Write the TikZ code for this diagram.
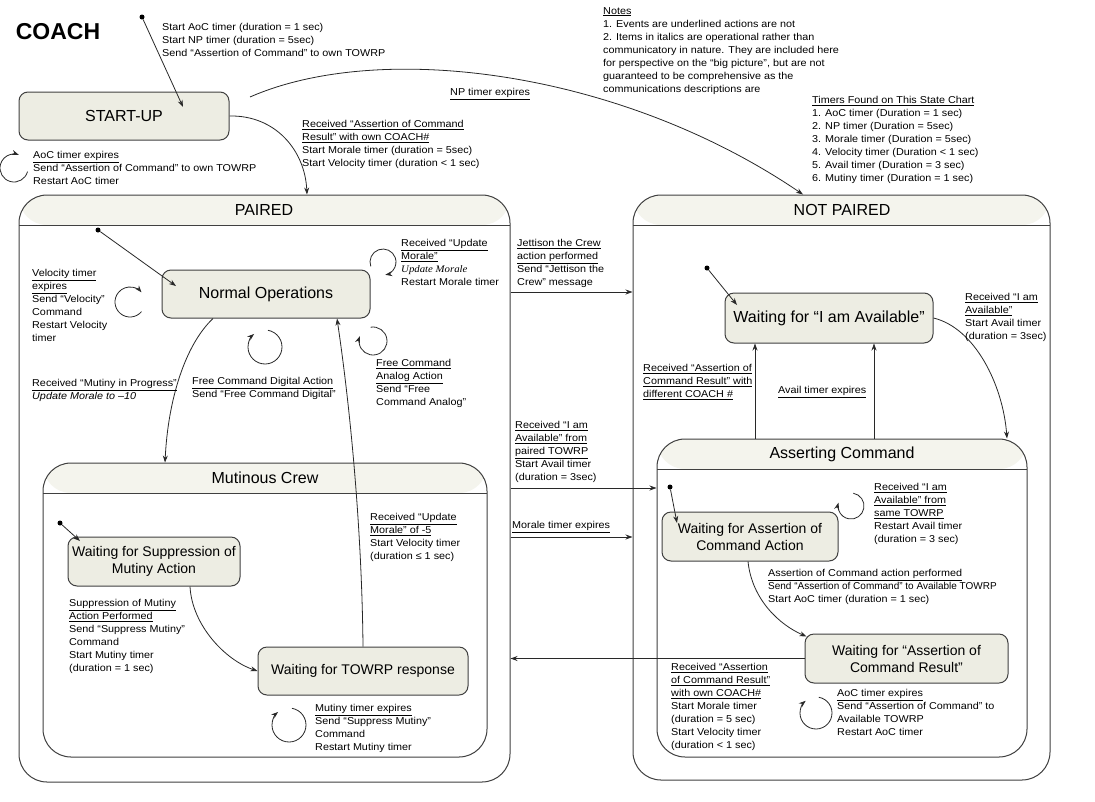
\documentclass[tikz,border=0pt]{standalone}
\usepackage{fontspec}
\setmainfont{Liberation Sans}
\newfontfamily\annfont{Liberation Sans}[FakeStretch=1.08]
\newfontfamily\serifit{Liberation Serif}[FakeStretch=1.08]
\usetikzlibrary{arrows.meta}
\definecolor{stfill}{RGB}{237,237,227}
\definecolor{hdrfill}{RGB}{244,244,237}
\definecolor{lncol}{RGB}{40,40,40}
\newcommand\sloop[5]{\draw[arr] ({#1+#3*cos(#4)},{#2-#3*sin(#4)}) arc[start angle={-(#4)}, end angle={-(#5)}, radius=#3];}
\begin{document}
\begin{tikzpicture}[x=1pt,y=-1pt,
  arr/.style={draw=lncol, line width=0.8pt, -{Stealth[length=7pt,width=5pt]}},
  ann/.style={anchor=north west, inner sep=0pt, align=left, font=\annfont\fontsize{10}{13}\selectfont},
  st/.style={draw=black!75, fill=stfill, line width=1pt, rounded corners=9pt, inner sep=2pt, align=center, font=\fontsize{16}{19}\selectfont},
  sst/.style={st, font=\fontsize{14}{17}\selectfont},
  comp/.style={draw=black!75, fill=white, line width=1pt, rounded corners=28pt, inner sep=0pt,
    path picture={\fill[hdrfill] (path picture bounding box.north west) rectangle ([yshift=-30pt]path picture bounding box.north east);
      \draw[black!75, line width=1pt] ([yshift=-30pt]path picture bounding box.north west) -- ([yshift=-30pt]path picture bounding box.north east);}},
  ttl/.style={inner sep=0pt, font=\fontsize{16}{19}\selectfont},
  idot/.style={circle, fill=black, inner sep=0pt, minimum size=5pt}]
\useasboundingbox (0,0) rectangle (1095,801);

% composite states
\node[comp, minimum width=491pt, minimum height=587pt] (paired) at (264.5,488.5) {};
\node[comp, minimum width=417pt, minimum height=585pt] (nop) at (841.5,487.5) {};
\node[comp, minimum width=444pt, minimum height=294pt] (mc) at (265,610) {};
\node[comp, minimum width=370pt, minimum height=318pt] (ac) at (842,598) {};
\node[ttl] (pairedT) at (264,210) {PAIRED};
\node[ttl] (nopT) at (842,210) {NOT PAIRED};
\node[ttl] (mcT) at (265,478) {Mutinous Crew};
\node[ttl] (acT) at (842,454) {Asserting Command};

\node[font=\fontsize{23}{26}\selectfont\bfseries, inner sep=0pt] (coach) at (58,32) {COACH};

% simple states
\node[st, minimum width=210pt, minimum height=48pt] (su) at (124,116) {START-UP};
\node[st, minimum width=208pt, minimum height=48pt] (no) at (266,294) {Normal Operations};
\node[sst, minimum width=172pt, minimum height=49pt] (wsup) at (154,561.5) {Waiting for Suppression of\\Mutiny Action};
\node[sst, minimum width=210pt, minimum height=48pt] (wt) at (363,671) {Waiting for TOWRP response};
\node[st, minimum width=208pt, minimum height=50pt] (wa) at (829,318) {Waiting for “I am Available”};
\node[sst, minimum width=176pt, minimum height=49pt] (wact) at (750,536.5) {Waiting for Assertion of\\Command Action};
\node[sst, minimum width=203pt, minimum height=49pt] (wr) at (906.5,658.5) {Waiting for “Assertion of\\Command Result”};

% initial pseudo states
\node[idot] (i0) at (142,17) {};
\coordinate (i0e) at (183,107);
\draw[arr] (i0) -- (i0e);
\node[idot] (i1) at (98,230) {};
\coordinate (i1e) at (176,286);
\draw[arr] (i1) -- (i1e);
\node[idot] (i2) at (60,523) {};
\coordinate (i2e) at (80,541);
\draw[arr] (i2) -- (i2e);
\node[idot] (i3) at (707,268) {};
\coordinate (i3e) at (737,305);
\draw[arr] (i3) -- (i3e);
\node[idot] (i4) at (670,487) {};
\coordinate (i4e) at (677,523);
\draw[arr] (i4) -- (i4e);

% transitions
\draw[arr] (su.east) .. controls (275,115) and (305,150) .. (paired.north -| 307,0);
\coordinate (npstart) at (250,97);
\draw[arr] (npstart) .. controls (380,40) and (620,70) .. (nop.north -| 803,0);
\draw[arr] (paired.east |- 0,292) -- (nop.west |- 0,292);
\draw[arr] (paired.east |- 0,488) -- (ac.west |- 0,488);
\draw[arr] (paired.east |- 0,537) -- (nop.west |- 0,537);
\draw[arr] (wr.west) -- (paired.east |- wr.west);
\draw[arr] ([xshift=-53pt]no.south) .. controls (185,345) and (168,400) .. (mc.north -| 165,0);
\draw[arr] (wt.north) .. controls (362,540) and (352,420) .. ([xshift=71pt]no.south);
\draw[arr] ([xshift=36pt]wsup.south) .. controls (192,625) and (225,660) .. (wt.west);
\draw[arr] (wa.east) .. controls (975,328) and (1003,385) .. (ac.north -| 1007,0);
\draw[arr] (ac.north -| 755,0) -- (wa.south -| 755,0);
\draw[arr] (ac.north -| 874,0) -- (wa.south -| 874,0);
\draw[arr] ([xshift=-2pt]wact.south) .. controls (752,600) and (780,625) .. ([xshift=2pt,yshift=-3pt]wr.north west);

% self loops
\sloop{14}{168}{14}{-15}{-290}
\sloop{130}{302}{15}{-40}{-320}
\sloop{265}{347}{17}{80}{-230}
\sloop{383}{262}{13}{200}{-80}
\sloop{373}{341}{14}{100}{-200}
\sloop{289}{725}{17}{80}{-230}
\sloop{851}{506}{13}{80}{-195}
\sloop{816}{713}{16}{80}{-230}

% labels
\node[ann] (t1) at (162,23) {Start AoC timer (duration = 1 sec)\\Start NP timer (duration = 5sec)\\Send “Assertion of Command” to own TOWRP};
\node[ann] (t2) at (33,151) {\underline{AoC timer expires}\\Send “Assertion of Command” to own TOWRP\\Restart AoC timer};
\node[ann] (t3) at (302,120) {\underline{Received “Assertion of Command}\\\underline{Result” with own COACH\#}\\Start Morale timer (duration = 5sec)\\Start Velocity timer (duration < 1 sec)};
\node[ann] (t4) at (450,88) {\underline{NP timer expires}};
\node[ann] (t5) at (603,7) {\underline{Notes}\\1. Events are underlined  actions are not\\2. Items in italics are operational rather than\\communicatory in nature.  They are included here\\for perspective on the “big picture”, but are not\\guaranteed to be comprehensive as the\\communications descriptions are};
\node[ann] (t6) at (812,96) {\underline{Timers Found on This State Chart}\\1. AoC timer (Duration = 1 sec)\\2. NP timer (Duration = 5sec)\\3. Morale timer (Duration = 5sec)\\4. Velocity timer (Duration < 1 sec)\\5. Avail timer (Duration = 3 sec)\\6. Mutiny timer (Duration = 1 sec)};
\node[ann] (t7) at (32,269) {\underline{Velocity timer}\\\underline{expires}\\Send “Velocity”\\Command\\Restart Velocity\\timer};
\node[ann] (t8) at (32,379) {\underline{Received “Mutiny in Progress”}\\\textit{Update Morale to –10}};
\node[ann] (t9) at (192,377) {\underline{Free Command Digital Action}\\Send “Free Command Digital”};
\node[ann] (t10) at (401,239) {\underline{Received “Update}\\\underline{Morale”}\\{\serifit\itshape Update Morale}\\Restart Morale timer};
\node[ann] (t11) at (376,359) {\underline{Free Command}\\\underline{Analog Action}\\Send “Free\\Command Analog”};
\node[ann] (t12) at (517,239) {\underline{Jettison the Crew}\\\underline{action performed}\\Send “Jettison the\\Crew” message};
\node[ann] (t13) at (515,421) {\underline{Received “I am}\\\underline{Available” from}\\\underline{paired TOWRP}\\Start Avail timer\\(duration = 3sec)};
\node[ann] (t14) at (512,521) {\underline{Morale timer expires}};
\node[ann] (t15) at (69,599) {\underline{Suppression of Mutiny}\\\underline{Action Performed}\\Send “Suppress Mutiny”\\Command\\Start Mutiny timer\\(duration = 1 sec)};
\node[ann] (t16) at (370,513) {\underline{Received “Update}\\\underline{Morale” of -5}\\Start Velocity timer\\(duration ≤ 1 sec)};
\node[ann] (t17) at (315,704) {\underline{Mutiny timer expires}\\Send “Suppress Mutiny”\\Command\\Restart Mutiny timer};
\node[ann] (t18) at (643,364) {\underline{Received “Assertion of}\\\underline{Command Result” with}\\\underline{different COACH \#}};
\node[ann] (t19) at (778,386) {\underline{Avail timer expires}};
\node[ann] (t20) at (965,293) {\underline{Received “I am}\\\underline{Available”}\\Start Avail timer\\(duration = 3sec)};
\node[ann] (t21) at (874,483) {\underline{Received “I am}\\\underline{Available” from}\\\underline{same TOWRP}\\Restart Avail timer\\(duration = 3 sec)};
\node[ann] (t22) at (768,569) {\underline{Assertion of Command action performed}\\{\rmfamily Send “Assertion of Command” to Available TOWRP}\\Start AoC timer (duration = 1 sec)};
\node[ann] (t23) at (671,663) {\underline{Received “Assertion}\\\underline{of Command Result”}\\\underline{with own COACH\#}\\Start Morale timer\\(duration = 5 sec)\\Start Velocity timer\\(duration < 1 sec)};
\node[ann] (t24) at (837,689) {\underline{AoC timer expires}\\Send “Assertion of Command” to\\Available TOWRP\\Restart AoC timer};
\end{tikzpicture}
\end{document}
